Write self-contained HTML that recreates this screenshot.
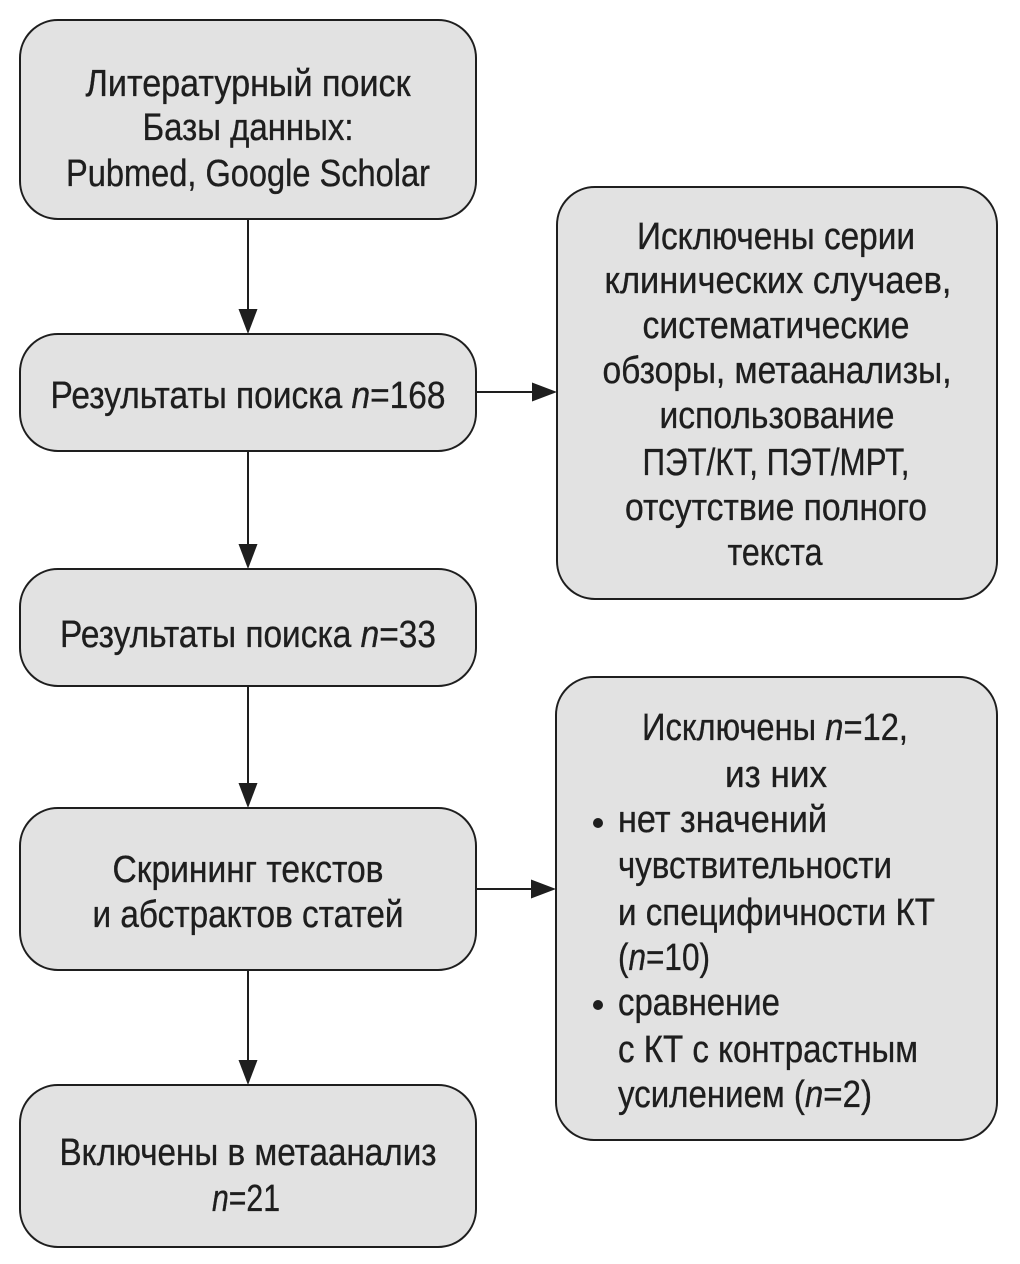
<!DOCTYPE html>
<html>
<head>
<meta charset="utf-8">
<style>
  html, body { margin: 0; padding: 0; background: #ffffff; }
  body { width: 1020px; height: 1264px; overflow: hidden; }
  svg { display: block; }
  text { font-family: "Liberation Sans", "DejaVu Sans", sans-serif; font-size: 38px; fill: #1e1e1e; stroke: #1e1e1e; stroke-width: 0.35px; }
  .it { font-style: italic; }
</style>
</head>
<body>
<svg width="1020" height="1264" viewBox="0 0 1020 1264" xmlns="http://www.w3.org/2000/svg">
  <rect x="0" y="0" width="1020" height="1264" fill="#ffffff"/>

  <!-- Boxes -->
  <g fill="#e2e2e2" stroke="#1e1e1e" stroke-width="2">
    <rect x="20" y="20" width="456" height="199" rx="38" ry="38"/>
    <rect x="20" y="334" width="456" height="117" rx="38" ry="38"/>
    <rect x="20" y="569" width="456" height="117" rx="38" ry="38"/>
    <rect x="20" y="808" width="456" height="162" rx="38" ry="38"/>
    <rect x="20" y="1085" width="456" height="162" rx="38" ry="38"/>
    <rect x="557" y="187" width="440" height="412" rx="38" ry="38"/>
    <rect x="556" y="677" width="441" height="463" rx="38" ry="38"/>
  </g>

  <!-- Connectors -->
  <g stroke="#1e1e1e" stroke-width="2" fill="none">
    <line x1="248" y1="219" x2="248" y2="312"/>
    <line x1="248" y1="451" x2="248" y2="547"/>
    <line x1="248" y1="686" x2="248" y2="786"/>
    <line x1="248" y1="970" x2="248" y2="1063"/>
    <line x1="476" y1="392" x2="535" y2="392"/>
    <line x1="476" y1="889" x2="534" y2="889"/>
  </g>
  <g fill="#1e1e1e">
    <polygon points="238.5,309 257.5,309 248,334"/>
    <polygon points="238.5,544 257.5,544 248,569"/>
    <polygon points="238.5,783 257.5,783 248,808"/>
    <polygon points="238.5,1060 257.5,1060 248,1085"/>
    <polygon points="532,382.5 532,401.5 557,392"/>
    <polygon points="531,879.5 531,898.5 556,889"/>
  </g>

  <!-- Left column text -->
  <g text-anchor="middle">
    <text x="248" y="96" textLength="325" lengthAdjust="spacingAndGlyphs">Литературный поиск</text>
    <text x="248" y="140" textLength="211" lengthAdjust="spacingAndGlyphs">Базы данных:</text>
    <text x="248" y="186" textLength="364" lengthAdjust="spacingAndGlyphs">Pubmed, Google Scholar</text>

    <text x="248" y="408" textLength="395" lengthAdjust="spacingAndGlyphs">Результаты поиска <tspan class="it">n</tspan>=168</text>

    <text x="248" y="647" textLength="376" lengthAdjust="spacingAndGlyphs">Результаты поиска <tspan class="it">n</tspan>=33</text>

    <text x="248" y="882" textLength="271" lengthAdjust="spacingAndGlyphs">Скрининг текстов</text>
    <text x="248" y="927" textLength="311" lengthAdjust="spacingAndGlyphs">и абстрактов статей</text>

    <text x="248" y="1165" textLength="377" lengthAdjust="spacingAndGlyphs">Включены в метаанализ</text>
    <text x="246" y="1211" textLength="68" lengthAdjust="spacingAndGlyphs"><tspan class="it">n</tspan>=21</text>
  </g>

  <!-- Right box 1 text -->
  <g text-anchor="middle">
    <text x="776" y="249" textLength="278" lengthAdjust="spacingAndGlyphs">Исключены серии</text>
    <text x="778" y="293" textLength="347" lengthAdjust="spacingAndGlyphs">клинических случаев,</text>
    <text x="776" y="338" textLength="267" lengthAdjust="spacingAndGlyphs">систематические</text>
    <text x="777" y="383" textLength="349" lengthAdjust="spacingAndGlyphs">обзоры, метаанализы,</text>
    <text x="777" y="428" textLength="235" lengthAdjust="spacingAndGlyphs">использование</text>
    <text x="776" y="475" textLength="267" lengthAdjust="spacingAndGlyphs">ПЭТ/КТ, ПЭТ/МРТ,</text>
    <text x="776" y="520" textLength="302" lengthAdjust="spacingAndGlyphs">отсутствие полного</text>
    <text x="775" y="565" textLength="95" lengthAdjust="spacingAndGlyphs">текста</text>
  </g>

  <!-- Right box 2 text -->
  <g text-anchor="middle">
    <text x="775" y="740" textLength="266" lengthAdjust="spacingAndGlyphs">Исключены <tspan class="it">n</tspan>=12,</text>
    <text x="776" y="787" textLength="102" lengthAdjust="spacingAndGlyphs">из них</text>
  </g>
  <g fill="#1e1e1e">
    <circle cx="598" cy="823" r="5"/>
    <circle cx="598" cy="1005" r="5"/>
  </g>
  <g text-anchor="start">
    <text x="618" y="832" textLength="209" lengthAdjust="spacingAndGlyphs">нет значений</text>
    <text x="618" y="878" textLength="274" lengthAdjust="spacingAndGlyphs">чувствительности</text>
    <text x="618" y="925" textLength="317" lengthAdjust="spacingAndGlyphs">и специфичности КТ</text>
    <text x="618" y="970" textLength="92" lengthAdjust="spacingAndGlyphs">(<tspan class="it">n</tspan>=10)</text>
    <text x="618" y="1015" textLength="162" lengthAdjust="spacingAndGlyphs">сравнение</text>
    <text x="618" y="1062" textLength="300" lengthAdjust="spacingAndGlyphs">с КТ с контрастным</text>
    <text x="618" y="1107" textLength="254" lengthAdjust="spacingAndGlyphs">усилением (<tspan class="it">n</tspan>=2)</text>
  </g>
</svg>
</body>
</html>
